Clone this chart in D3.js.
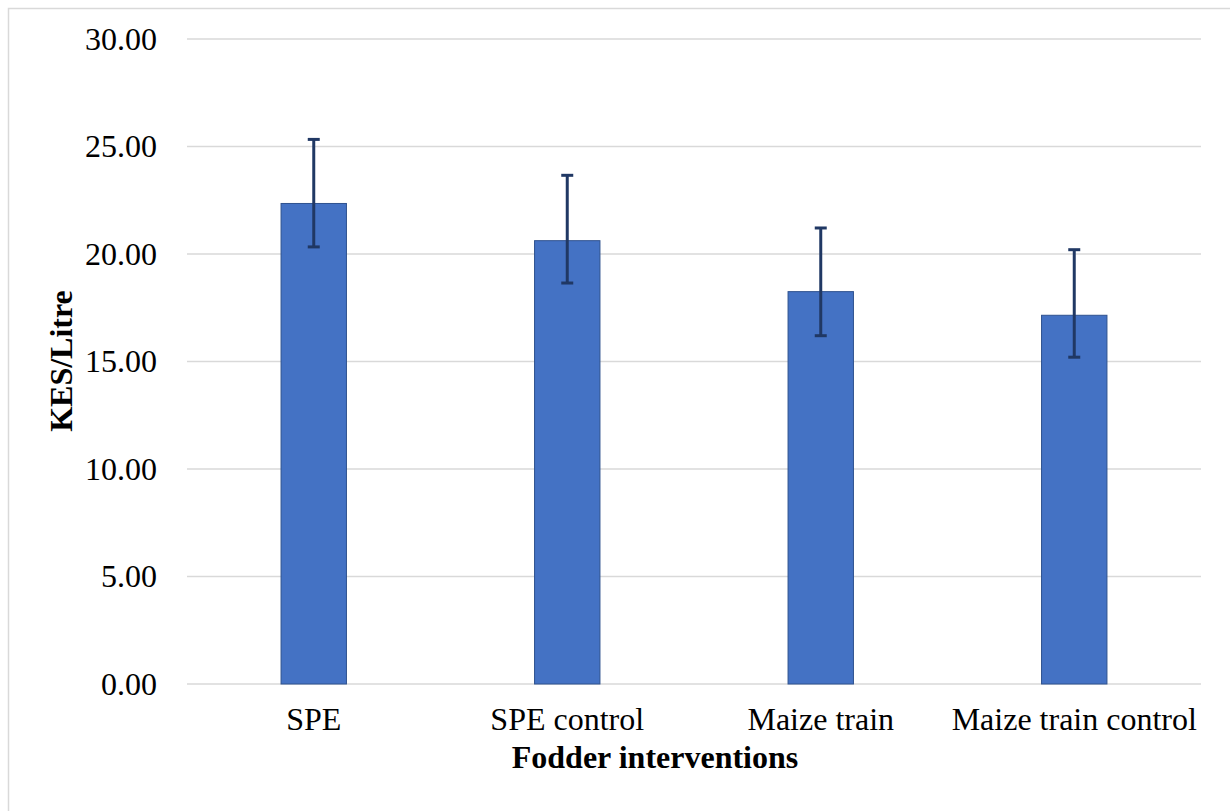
<!DOCTYPE html>
<html>
<head>
<meta charset="utf-8">
<script src="https://cdn.jsdelivr.net/npm/d3@7"></script>
<style>
  body { margin: 0; background: #fff; }
  svg text { font-family: "Liberation Serif", "Times New Roman", serif; fill: #000; }
</style>
</head>
<body>
<div id="chart"></div>
<script>
// values
const categories = ['SPE', 'SPE control', 'Maize train', 'Maize train control'];
const means = [22.35, 20.62, 18.25, 17.15];
const errUp = [2.98, 3.04, 2.96, 3.05];
const errDown = [2.02, 1.97, 2.05, 1.95];
const yTicks = [0, 5, 10, 15, 20, 25, 30];

const width = 1230, height = 811;
const margin = {top: 39, right: 29, bottom: 127, left: 187};
const fontSize = 32;

const svg = d3.select('#chart').append('svg')
  .attr('width', width)
  .attr('height', height);

// chart frame (only left and top edges visible in the crop)
svg.append('path')
  .attr('d', `M8.5,${height} V8.5 H${width}`)
  .attr('fill', 'none')
  .attr('stroke', '#d9d9d9')
  .attr('stroke-width', 1.5);

const x = d3.scaleBand()
  .domain(categories)
  .range([margin.left, width - margin.right])
  .paddingInner(0.742)
  .paddingOuter(0.371);

const y = d3.scaleLinear()
  .domain([0, 30])
  .range([height - margin.bottom, margin.top]);

// gridlines
svg.append('g')
  .selectAll('line')
  .data(yTicks)
  .join('line')
  .attr('x1', margin.left)
  .attr('x2', width - margin.right)
  .attr('y1', d => y(d))
  .attr('y2', d => y(d))
  .attr('stroke', '#d9d9d9')
  .attr('stroke-width', 1.5);

// y tick labels
svg.append('g')
  .selectAll('text')
  .data(yTicks)
  .join('text')
  .attr('x', 157)
  .attr('y', d => y(d))
  .attr('dy', '0.33em')
  .attr('text-anchor', 'end')
  .attr('font-size', fontSize)
  .text(d => d3.format('.2f')(d));

// bars
const data = categories.map((c, i) => ({cat: c, v: means[i], up: errUp[i], down: errDown[i]}));

svg.append('g')
  .selectAll('rect')
  .data(data)
  .join('rect')
  .attr('x', d => x(d.cat))
  .attr('y', d => y(d.v))
  .attr('width', x.bandwidth())
  .attr('height', d => y(0) - y(d.v))
  .attr('fill', '#4472c4')
  .attr('stroke', '#2f528f')
  .attr('stroke-width', 1);

// error bars
const errG = svg.append('g')
  .attr('stroke', '#203864')
  .attr('stroke-width', 3);

const cx = d => x(d.cat) + x.bandwidth() / 2;

errG.selectAll('line.stem')
  .data(data)
  .join('line')
  .attr('class', 'stem')
  .attr('x1', cx).attr('x2', cx)
  .attr('y1', d => y(d.v + d.up))
  .attr('y2', d => y(d.v - d.down));

errG.selectAll('line.capTop')
  .data(data)
  .join('line')
  .attr('class', 'capTop')
  .attr('x1', d => cx(d) - 6).attr('x2', d => cx(d) + 6)
  .attr('y1', d => y(d.v + d.up))
  .attr('y2', d => y(d.v + d.up));

errG.selectAll('line.capBot')
  .data(data)
  .join('line')
  .attr('class', 'capBot')
  .attr('x1', d => cx(d) - 6).attr('x2', d => cx(d) + 6)
  .attr('y1', d => y(d.v - d.down))
  .attr('y2', d => y(d.v - d.down));

// x category labels
svg.append('g')
  .selectAll('text')
  .data(categories)
  .join('text')
  .attr('x', d => x(d) + x.bandwidth() / 2)
  .attr('y', 730)
  .attr('text-anchor', 'middle')
  .attr('font-size', fontSize)
  .text(d => d);

// axis titles
svg.append('text')
  .attr('x', 655)
  .attr('y', 768)
  .attr('text-anchor', 'middle')
  .attr('font-size', fontSize)
  .attr('font-weight', 'bold')
  .text('Fodder interventions');

svg.append('text')
  .attr('transform', 'translate(72,361) rotate(-90)')
  .attr('text-anchor', 'middle')
  .attr('font-size', fontSize)
  .attr('font-weight', 'bold')
  .text('KES/Litre');
</script>
</body>
</html>
